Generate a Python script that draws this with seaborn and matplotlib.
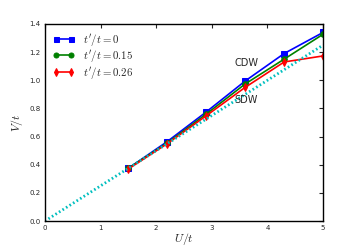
import numpy as np
import pandas as pd
import matplotlib
matplotlib.use("Agg")
import matplotlib.pyplot as plt
import seaborn as sns

# values
U = [1.5, 2.2, 2.9, 3.6, 4.3, 5.0]
V_t0 = [0.375, 0.565, 0.775, 0.995, 1.19, 1.34]
V_t015 = [0.375, 0.555, 0.76, 0.974, 1.15, 1.327]
V_t026 = [0.37, 0.55, 0.748, 0.95, 1.13, 1.173]
sdw_U = [0.0, 5.0]
sdw_V = [0.0, 1.25]

labels = [r"$t'/t=0$", r"$t'/t=0.15$", r"$t'/t=0.26$"]
colors = ["blue", "green", "red"]
markers = ["s", "o", "d"]

sns.set_style("white")
plt.rcParams["mathtext.fontset"] = "cm"
plt.rcParams["font.family"] = ["DejaVu Sans"]

fig = plt.figure(figsize=(3.59, 2.47), dpi=100)
ax = fig.add_axes([0.125, 0.105, 0.775, 0.798])

for vals, lab, c, m in zip([V_t0, V_t015, V_t026], labels, colors, markers):
    sns.lineplot(x=U, y=vals, ax=ax, color=c, marker=m, markersize=4,
                 markeredgecolor=c, linewidth=1.2, label=lab)

sns.lineplot(x=sdw_U, y=sdw_V, ax=ax, color="c", linewidth=2.0,
             dashes=False)
ax.lines[-1].set_linestyle((0, (0.6, 0.9)))

ax.text(3.62, 1.12, "CDW", ha="center", va="center", fontsize=7)
ax.text(3.61, 0.86, "SDW", ha="center", va="center", fontsize=7)

ax.set_xlim(0, 5)
ax.set_ylim(0, 1.4)
ax.set_xticks([0, 1, 2, 3, 4, 5])
ax.set_yticks([0.0, 0.2, 0.4, 0.6, 0.8, 1.0, 1.2, 1.4])
ax.set_yticklabels(["0.0", "0.2", "0.4", "0.6", "0.8", "1.0", "1.2", "1.4"])
ax.tick_params(direction="in", top=True, right=True, labelsize=5, length=3, width=0.8, pad=3)
for s in ax.spines.values():
    s.set_color("black")
    s.set_linewidth(1.0)

ax.set_xlabel(r"$U/t$", fontsize=8.5, labelpad=0)
ax.set_ylabel(r"$V/t$", fontsize=8.5, labelpad=3)

ax.legend(loc="upper left", frameon=False, numpoints=2, fontsize=7.8,
          handlelength=2.0, borderaxespad=0.3, labelspacing=0.05,
          markerscale=0.9)

fig.savefig("out.png", dpi=100)
